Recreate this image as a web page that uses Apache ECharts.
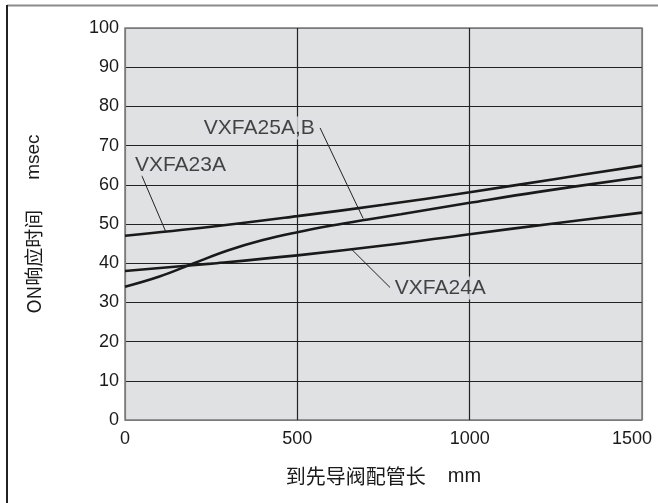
<!DOCTYPE html>
<html>
<head>
<meta charset="utf-8">
<script src="https://cdn.jsdelivr.net/npm/echarts@6/dist/echarts.min.js"></script>
<style>
html,body{margin:0;padding:0;background:#fff;}
#c{width:658px;height:503px;}
</style>
</head>
<body>
<div id="c"></div>
<script>
// Data
var xTicks = [0, 500, 1000, 1500];
var yTicks = [0, 10, 20, 30, 40, 50, 60, 70, 80, 90, 100];

var x23 = [0, 250, 500, 750, 1000, 1250, 1500];
var y23 = [47, 49.3, 52, 54.9, 58.1, 61.5, 64.9];

var x25 = [0, 100, 200, 300, 400, 500, 600, 700, 800, 1000, 1200, 1500];
var y25 = [34, 36.6, 40, 43.3, 45.9, 47.9, 49.6, 51.1, 52.5, 55.4, 58.2, 62];

var x24 = [0, 250, 500, 750, 1000, 1250, 1500];
var y24 = [38, 39.9, 42, 44.5, 47.4, 50.2, 52.9];

// annotation labels (data coordinates)
var labelNames = ['VXFA23A', 'VXFA25A,B', 'VXFA24A'];
var labelX = [23, 223, 777];
var labelY = [65.1, 74.5, 33.7];

// leader lines (data coordinates)
var leaderFromX = [48, 566, 769];
var leaderFromY = [62.5, 74.5, 33.8];
var leaderToX = [118, 691, 658];
var leaderToY = [48.1, 51.4, 43.5];

// axis titles
var xTitleMain = '到先导阀配管长', xTitleUnit = 'mm';
var yTitleMain = 'ON响应时间', yTitleUnit = 'msec';

function zip(a, b) { return a.map(function (v, i) { return [v, b[i]]; }); }

var FONT = '"Liberation Sans", Arial, sans-serif';
var CJK = '"Noto Sans CJK SC", "Liberation Sans", sans-serif';
var BG = '#e0e1e3';
var INK = '#1a1a1a';

var series = [];
[[x23, y23], [x25, y25], [x24, y24]].forEach(function (s) {
  series.push({
    type: 'line', data: zip(s[0], s[1]), smooth: 0.4, symbol: 'none',
    lineStyle: { color: INK, width: 2.6 }, z: 5, silent: true
  });
});
for (var i = 0; i < labelNames.length; i++) {
  series.push({
    type: 'line', data: [[leaderFromX[i], leaderFromY[i]], [leaderToX[i], leaderToY[i]]],
    symbol: 'none', lineStyle: { color: '#222', width: 1 }, z: 4, silent: true
  });
}
series.push({
  type: 'scatter', symbolSize: 0, z: 6, silent: true,
  data: labelNames.map(function (n, i) { return { name: n, value: [labelX[i], labelY[i]] }; }),
  label: {
    show: true, position: 'right', distance: 0,
    formatter: function (p) { return p.name; },
    fontFamily: FONT, fontSize: 21, color: INK,
    backgroundColor: BG, padding: [1, 2, 1, 2]
  }
});

var chart = echarts.init(document.getElementById('c'), null, { renderer: 'canvas' });
chart.setOption({
  animation: false,
  backgroundColor: '#fff',
  grid: { left: 125, right: 16, top: 28, bottom: 83, outerBoundsMode: 'none', containLabel: false,
          show: true, backgroundColor: BG, borderColor: '#7a7a7a', borderWidth: 1.5 },
  xAxis: {
    type: 'value', min: 0, max: 1500, interval: 500,
    name: '{a|' + xTitleMain + '}{b|' + xTitleUnit + '}', nameLocation: 'middle', nameGap: 46,
    nameTextStyle: { fontFamily: CJK, fontSize: 20, color: INK,
      rich: { a: { fontFamily: CJK, fontSize: 20, color: INK },
              b: { fontFamily: FONT, fontSize: 20, color: INK, padding: [0, 0, 0, 22] } } },
    axisLine: { show: false }, axisTick: { show: false },
    axisLabel: { fontFamily: FONT, fontSize: 18, color: INK, margin: 10,
                 formatter: function (v) { return v === 1500 ? '{last|' + v + '}' : String(v); },
                 rich: { last: { fontFamily: FONT, fontSize: 18, color: INK, padding: [0, 20, 0, 0] } } },
    splitLine: { show: true, lineStyle: { color: ['#7a7a7a', '#222', '#222', '#7a7a7a'], width: 1.2 } }
  },
  yAxis: {
    type: 'value', min: 0, max: 100, interval: 10,
    name: '{a|' + yTitleMain + '}{b|' + yTitleUnit + '}', nameLocation: 'middle', nameGap: 82, nameRotate: 90,
    nameTextStyle: { fontFamily: CJK, fontSize: 19, color: INK,
      rich: { a: { fontFamily: CJK, fontSize: 19, color: INK },
              b: { fontFamily: FONT, fontSize: 19, color: INK, padding: [0, 0, 0, 30] } } },
    axisLine: { show: false }, axisTick: { show: false },
    axisLabel: { fontFamily: FONT, fontSize: 18, color: INK, margin: 6,
                 formatter: function (v) { return String(v); } },
    splitLine: { show: true, lineStyle: { color: ['#7a7a7a', '#222', '#222', '#222', '#222', '#222', '#222', '#222', '#222', '#222', '#7a7a7a'], width: 1.2 } }
  },
  graphic: [
    { type: 'line', shape: { x1: 7, y1: 5.5, x2: 658, y2: 5.5 }, style: { stroke: '#8a8a8a', lineWidth: 2 }, silent: true },
    { type: 'line', shape: { x1: 7, y1: 5, x2: 7, y2: 503 }, style: { stroke: '#222', lineWidth: 2 }, silent: true }
  ],
  series: series
});
</script>
</body>
</html>
